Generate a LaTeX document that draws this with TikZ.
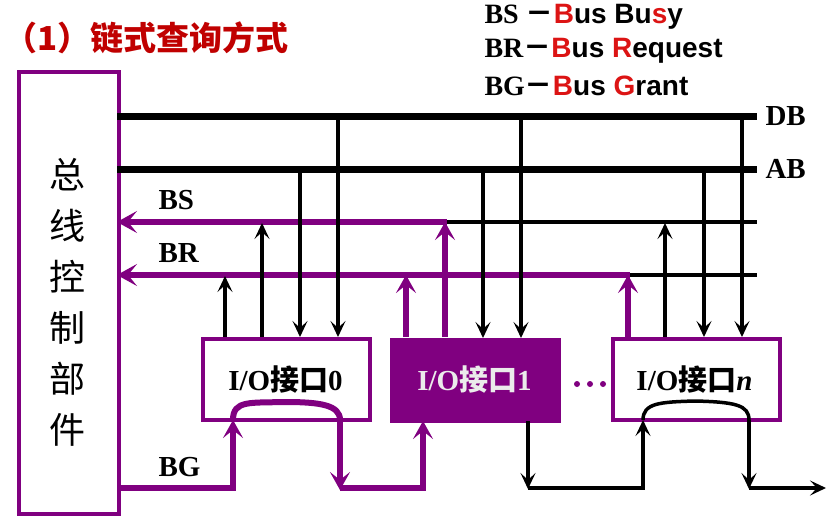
\documentclass[tikz,border=0pt]{standalone}
\usepackage{fontspec}
\setmainfont{Liberation Serif}
\newfontfamily\sansb{Liberation Sans}
\newfontfamily\cjk{Noto Sans CJK SC}
\usetikzlibrary{arrows.meta}
\definecolor{pur}{RGB}{128,0,128}
\definecolor{rd}{RGB}{220,20,20}
\definecolor{ttl}{RGB}{192,0,0}
\begin{document}
\begin{tikzpicture}[x=1pt,y=-1pt,
  bus/.style={line width=7pt},
  sig/.style={line width=3.5pt,-{Stealth[length=16pt,width=15pt,inset=7pt]}},
  sigp/.style={line width=6pt,pur,-{Stealth[length=18pt,width=20pt,inset=8pt]}},
  lineb/.style={line width=3.5pt},
  linep/.style={line width=6pt,pur},
  box/.style={draw=pur,line width=4pt,minimum width=167pt,minimum height=81pt,anchor=north west,inner sep=0pt},
  lab/.style={font=\bfseries\fontsize{29}{29}\selectfont,anchor=west},
  leg/.style={anchor=west,font=\fontsize{28}{28}\selectfont\bfseries},
  dot/.style={circle,fill,inner sep=0pt,minimum size=6pt},
  pdot/.style={circle,fill=pur,inner sep=0pt,minimum size=6pt}]
\useasboundingbox (0,0) rectangle (832,519);
% title and legend
\node[anchor=west,text=ttl,font=\cjk\bfseries\fontsize{33}{33}\selectfont] (title) at (1,38) {（1）链式查询方式};
\node[leg] (l1) at (481,17) {BS {\cjk －}{\sansb\color{rd}B}{\sansb us Bu}{\sansb\color{rd}s}{\sansb y}};
\node[leg] (l2) at (481,51) {BR{\cjk －}{\sansb\color{rd}B}{\sansb us }{\sansb\color{rd}R}{\sansb equest}};
\node[leg] (l3) at (481,86) {BG{\cjk －}{\sansb\color{rd}B}{\sansb us }{\sansb\color{rd}G}{\sansb rant}};
% control unit
\node[draw=pur,line width=4pt,minimum width=100pt,minimum height=442pt,anchor=north west,inner sep=0pt] (cu) at (17,70) {};
\node[font=\cjk\fontsize{36}{51}\selectfont,align=center] (cut) at (67,302) {总\\线\\控\\制\\部\\件};
% boxes
\node[box] (b0) at (201,337) {};
\node[font=\fontsize{29}{29}\selectfont\bfseries] (b0t) at (285.5,380) {I/O{\cjk 接口}0};
\node[box,fill=pur] (b1) at (390,338) {};
\node[font=\fontsize{29}{29}\selectfont\bfseries,text=white!92!black] (b1t) at (474.5,380) {I/O{\cjk 接口}1};
\node[box] (bn) at (611,337) {};
\node[font=\fontsize{29}{29}\selectfont\bfseries] (bnt) at (694.5,380) {I/O{\cjk 接口}\textit{n}};
\node[pdot] (p1) at (577,384) {};
\node[pdot] (p2) at (590,384) {};
\node[pdot] (p3) at (603,384) {};
% buses
\coordinate (dbL) at (117,116); \coordinate (dbR) at (757,116);
\coordinate (abL) at (117,169); \coordinate (abR) at (757,169);
\draw[bus] (dbL) -- (dbR);
\draw[bus] (abL) -- (abR);
\node[lab] (db) at (762,116) {DB};
\node[lab] (ab) at (762,169) {AB};
% BS, BR
\draw[lineb] (445,222) -- (757,222);
\draw[lineb] (628,275) -- (757,275);
\draw[linep,-{Stealth[length=20pt,width=22pt,inset=9pt]}] (447,222) -- (117,222);
\draw[linep,-{Stealth[length=20pt,width=22pt,inset=9pt]}] (630,275) -- (117,275);
\node[lab] (bs) at (155,200) {BS};
\node[lab] (br) at (155,253) {BR};
\node[lab] (bg) at (155,467) {BG};
% box0 connections
\draw[sig] (225,337) -- (225,276);
\draw[sig] (262,337) -- (262,223);
\node[dot] (d1) at (300,169) {}; \draw[sig] (d1) -- (300,337);
\node[dot] (d2) at (338,116) {}; \draw[sig] (d2) -- (338,337);
% box1
\draw[sigp] (406,337) -- (406,275);
\draw[sigp] (445,337) -- (445,222);
\node[dot] (d3) at (483,169) {}; \draw[sig] (d3) -- (483,338);
\node[dot] (d4) at (521,116) {}; \draw[sig] (d4) -- (521,338);
% box n
\draw[sigp] (628,337) -- (628,275);
\draw[sig] (665,337) -- (665,223);
\node[dot] (d5) at (704,169) {}; \draw[sig] (d5) -- (704,337);
\node[dot] (d6) at (742,116) {}; \draw[sig] (d6) -- (742,337);
% BG chain
\draw[linep,-{Stealth[length=18pt,width=20pt,inset=8pt]}] (117,488) -- (233,488) -- (233,420);
\draw[linep] (233,420) .. controls (233,400) and (250,403) .. (285,402) .. controls (320,402) and (340,405) .. (340,420);
\draw[linep,-{Stealth[length=18pt,width=20pt,inset=8pt]}] (340,420) -- (340,490);
\draw[linep,-{Stealth[length=18pt,width=20pt,inset=8pt]}] (340,488) -- (423,488) -- (423,421);
\draw[lineb,-{Stealth[length=16pt,width=15pt,inset=7pt]}] (528,421) -- (528,489);
\draw[lineb,-{Stealth[length=16pt,width=15pt,inset=7pt]}] (528,488) -- (643,488) -- (643,420);
\draw[lineb] (643,420) .. controls (643,403) and (660,402) .. (695,401) .. controls (735,402) and (749,405) .. (749,420);
\draw[lineb,-{Stealth[length=16pt,width=15pt,inset=7pt]}] (749,420) -- (749,489);
\draw[lineb,-{Stealth[length=16pt,width=15pt,inset=7pt]}] (749,488) -- (826,488);
\end{tikzpicture}
\end{document}
